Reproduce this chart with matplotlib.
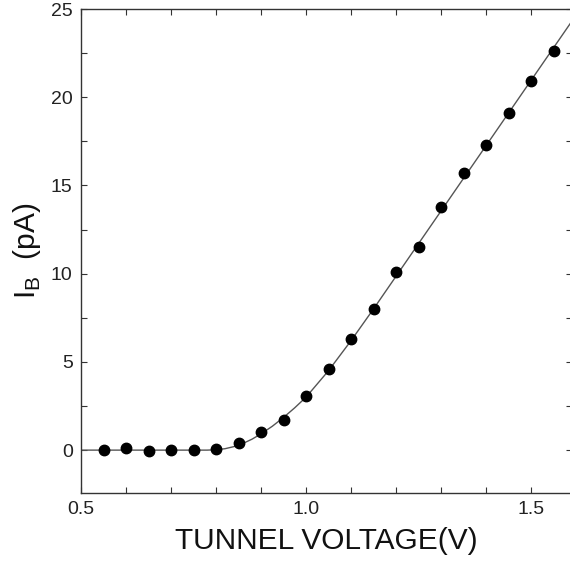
import numpy as np
import matplotlib
matplotlib.use("Agg")
import matplotlib.pyplot as plt
from matplotlib.ticker import MultipleLocator, FixedLocator

plt.rcParams['font.family'] = ['Liberation Sans', 'DejaVu Sans']
plt.rcParams['mathtext.fontset'] = 'custom'
plt.rcParams['mathtext.rm'] = 'Liberation Sans'

# measured points (tunnel voltage V, base current pA)
volt = [0.55, 0.60, 0.65, 0.70, 0.75, 0.80, 0.85, 0.90, 0.95, 1.00, 1.05,
        1.10, 1.15, 1.20, 1.25, 1.30, 1.35, 1.40, 1.45, 1.50, 1.55]
i_b = [0.0, 0.1, -0.05, 0.0, 0.0, 0.05, 0.4, 1.0, 1.7, 3.05, 4.6,
       6.3, 8.0, 10.1, 11.5, 13.8, 15.7, 17.3, 19.1, 20.9, 22.6]

# fitted curve
fit_v = [0.50, 0.60, 0.70, 0.78, 0.80, 0.82, 0.84, 0.86, 0.88, 0.90, 0.925,
         0.95, 0.975, 1.00, 1.05, 1.10, 1.15, 1.20, 1.25, 1.30, 1.35, 1.40,
         1.45, 1.50, 1.55, 1.60]
fit_i = [0.0, 0.0, 0.0, 0.0, 0.02, 0.08, 0.2, 0.38, 0.62, 0.92, 1.35,
         1.85, 2.4, 3.0, 4.5, 6.2, 8.0, 9.85, 11.7, 13.55, 15.4, 17.25,
         19.1, 20.95, 22.8, 24.65]

fig = plt.figure(figsize=(5.70, 5.61), dpi=100)
ax = fig.add_axes([81/570, 68/561, 491/570, 484/561])

ax.plot(fit_v, fit_i, '-', color='#555555', lw=1.0, zorder=2)
ax.plot(volt, i_b, 'o', color='black', ms=7.5, zorder=3)

ax.set_xlim(0.5, 0.5 + 491/450)
ax.set_ylim(-2.43, 25)

ax.xaxis.set_major_locator(FixedLocator([0.5, 1.0, 1.5]))
ax.xaxis.set_minor_locator(MultipleLocator(0.1))
ax.yaxis.set_major_locator(MultipleLocator(5))
ax.yaxis.set_minor_locator(MultipleLocator(2.5))
ax.set_xticklabels(['0.5', '1.0', '1.5'])

ax.tick_params(which='both', direction='in', top=True, right=True,
               length=4, width=0.8, color='#333333', labelsize=14,
               labelcolor='#222222')
ax.tick_params(axis='x', pad=6)
ax.tick_params(axis='y', pad=6)
for s in ax.spines.values():
    s.set_color('#333333')
    s.set_linewidth(1.0)

ax.set_xlabel('TUNNEL VOLTAGE(V)', fontsize=21.5, color='#111111', labelpad=6)
ax.set_ylabel(r'I$_\mathregular{B}$  (pA)', fontsize=21.5, color='#111111', labelpad=6)

fig.savefig('out.png', dpi=100)
